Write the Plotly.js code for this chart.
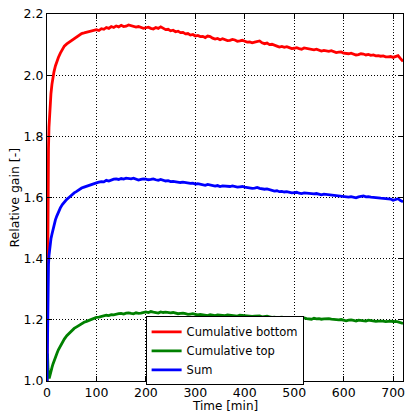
<!DOCTYPE html>
<html>
<head>
<meta charset="utf-8">
<script src="https://cdn.plot.ly/plotly-3.0.1.min.js"></script>
<style>html,body{margin:0;padding:0;background:#fff;}#chart{width:406px;height:413px;}</style>
</head>
<body>
<div id="chart"></div>
<script>
const timeMin = [0,1,2,3,4,5,6,7,8,10,12,14,17,20,23,27,31,35,40,45,50,55,60,65,70,75,80,85,90,95,
  100,105,110,115,120,125,130,135,140,145,
  150,155,160,165,170,175,180,185,190,195,
  200,205,210,215,220,225,230,235,240,245,
  250,255,260,265,270,275,280,285,290,295,
  300,305,310,315,320,325,330,335,340,345,
  350,355,360,365,370,375,380,385,390,395,
  400,405,410,415,420,425,430,435,440,445,
  450,455,460,465,470,475,480,485,490,495,
  500,505,510,515,520,525,530,535,540,545,
  550,555,560,565,570,575,580,585,590,595,
  600,605,610,615,620,625,630,635,640,645,
  650,655,660,665,670,675,680,685,690,695,
  700,705,710,715,720];

const cumulativeBottom = [1.00,1.45,1.65,1.76,1.83,1.87,1.90,1.92,1.94,1.97,1.995,2.01,2.03,2.045,2.058,2.072,2.083,2.095,2.102,2.108,2.115,2.12,2.127,2.13,2.136,2.138,2.14,2.141,2.145,2.146,
  2.149,2.146,2.152,2.150,2.156,2.153,2.159,2.156,2.161,2.158,
  2.163,2.159,2.160,2.164,2.162,2.158,2.157,2.159,2.156,2.153,
  2.155,2.157,2.153,2.151,2.156,2.153,2.158,2.152,2.149,2.150,
  2.145,2.147,2.142,2.144,2.139,2.140,2.135,2.136,2.131,2.133,
  2.128,2.130,2.126,2.127,2.123,2.128,2.126,2.121,2.118,2.120,
  2.116,2.119,2.117,2.113,2.114,2.117,2.115,2.111,2.112,2.114,
  2.111,2.108,2.109,2.106,2.108,2.111,2.112,2.106,2.103,2.105,
  2.100,2.101,2.097,2.095,2.092,2.094,2.091,2.093,2.090,2.087,
  2.088,2.090,2.087,2.085,2.089,2.087,2.086,2.083,2.083,2.085,
  2.082,2.079,2.081,2.079,2.078,2.080,2.077,2.074,2.075,2.076,
  2.072,2.070,2.070,2.072,2.068,2.066,2.067,2.070,2.069,2.066,
  2.068,2.065,2.066,2.063,2.064,2.062,2.063,2.060,2.060,2.061,
  2.058,2.061,2.064,2.054,2.045];

const cumulativeTop = [1.00,1.09,1.04,1.02,1.012,1.012,1.02,1.025,1.03,1.044,1.055,1.065,1.078,1.09,1.102,1.115,1.126,1.137,1.148,1.157,1.165,1.172,1.177,1.183,1.187,1.192,1.195,1.198,1.203,1.205,
  1.208,1.209,1.211,1.213,1.215,1.214,1.217,1.216,1.219,1.220,
  1.221,1.219,1.222,1.223,1.221,1.220,1.223,1.221,1.222,1.224,
  1.226,1.224,1.227,1.225,1.224,1.222,1.226,1.224,1.225,1.223,
  1.223,1.224,1.222,1.220,1.221,1.222,1.220,1.218,1.219,1.220,
  1.218,1.216,1.218,1.217,1.215,1.214,1.217,1.215,1.214,1.216,
  1.215,1.213,1.214,1.216,1.215,1.213,1.214,1.212,1.215,1.214,
  1.214,1.212,1.213,1.211,1.212,1.213,1.213,1.210,1.211,1.212,
  1.210,1.208,1.209,1.207,1.208,1.209,1.207,1.205,1.206,1.207,
  1.206,1.204,1.205,1.206,1.206,1.204,1.204,1.202,1.205,1.203,
  1.204,1.202,1.203,1.204,1.204,1.202,1.201,1.199,1.200,1.201,
  1.199,1.197,1.199,1.200,1.198,1.196,1.199,1.198,1.198,1.196,
  1.199,1.197,1.197,1.195,1.196,1.197,1.196,1.194,1.195,1.196,
  1.194,1.195,1.193,1.191,1.188];

const sumGain = [1.00,1.25,1.33,1.38,1.41,1.43,1.445,1.455,1.465,1.48,1.497,1.51,1.527,1.54,1.553,1.566,1.577,1.586,1.594,1.601,1.609,1.615,1.62,1.626,1.631,1.634,1.637,1.64,1.644,1.645,
  1.648,1.650,1.652,1.651,1.656,1.654,1.658,1.660,1.661,1.659,
  1.662,1.660,1.663,1.661,1.661,1.663,1.660,1.657,1.659,1.661,
  1.660,1.658,1.659,1.661,1.658,1.656,1.659,1.657,1.654,1.655,
  1.652,1.653,1.651,1.649,1.649,1.650,1.648,1.646,1.646,1.647,
  1.644,1.645,1.643,1.641,1.640,1.643,1.641,1.638,1.637,1.639,
  1.636,1.638,1.637,1.635,1.636,1.638,1.636,1.634,1.635,1.636,
  1.634,1.632,1.632,1.630,1.631,1.633,1.630,1.628,1.627,1.628,
  1.625,1.624,1.621,1.622,1.619,1.620,1.618,1.619,1.616,1.615,
  1.616,1.617,1.614,1.613,1.615,1.614,1.613,1.611,1.612,1.613,
  1.611,1.609,1.611,1.610,1.609,1.610,1.608,1.606,1.607,1.606,
  1.603,1.602,1.601,1.603,1.601,1.599,1.602,1.604,1.605,1.602,
  1.603,1.601,1.601,1.599,1.599,1.598,1.597,1.596,1.594,1.595,
  1.591,1.594,1.596,1.590,1.586];

const seriesNames = ["Cumulative bottom","Cumulative top","Sum"];
const seriesColors = ["#ff0000","#008000","#0000ff"];
const xTicks = [0,100,200,300,400,500,600,700];
const yTicks = [1.0,1.2,1.4,1.6,1.8,2.0,2.2];
const xTitle = "Time [min]";
const yTitle = "Relative gain [-]";

const seriesData = [cumulativeBottom, cumulativeTop, sumGain];
const traces = seriesData.map((ys, i) => ({
  x: timeMin, y: ys, type: 'scatter', mode: 'lines', name: seriesNames[i],
  line: {color: seriesColors[i], width: 2.8}
}));

const axisCommon = {
  showline: true, mirror: 'ticks', linecolor: '#000', linewidth: 1,
  ticks: 'inside', ticklen: 5, tickcolor: '#000', tickwidth: 1,
  showgrid: true, gridcolor: '#000', gridwidth: 1, griddash: '1px,2px',
  zeroline: false, automargin: false,
  tickfont: {family: 'DejaVu Sans', size: 12.5, color: '#000'}
};

const layout = {
  width: 406, height: 413,
  margin: {l: 47, r: 3, t: 14, b: 32},
  paper_bgcolor: '#fff', plot_bgcolor: '#fff',
  font: {family: 'DejaVu Sans', color: '#000'},
  xaxis: Object.assign({}, axisCommon, {
    range: [0, 720], tickvals: xTicks, ticktext: xTicks.map(String)
  }),
  yaxis: Object.assign({}, axisCommon, {
    range: [1.0, 2.2], tickvals: yTicks, ticktext: yTicks.map(v => v.toFixed(1))
  }),
  annotations: [
    {text: xTitle, xref: 'paper', yref: 'paper', x: 0.5, y: 0, xanchor: 'center', yanchor: 'top',
     yshift: -17, borderpad: 0, showarrow: false, font: {family: 'DejaVu Sans', size: 12, color: '#000'}},
    {text: yTitle, xref: 'paper', yref: 'paper', x: 0, y: 0.5, xanchor: 'center', yanchor: 'middle',
     xshift: -33, textangle: -90, showarrow: false, font: {family: 'DejaVu Sans', size: 12.5, color: '#000'}}
  ],
  showlegend: true,
  legend: {
    x: 0.277, y: 0.176, xanchor: 'left', yanchor: 'top',
    bgcolor: '#fff', bordercolor: '#000', borderwidth: 1,
    font: {family: 'DejaVu Sans', size: 11.5, color: '#000'},
    tracegroupgap: 0, itemwidth: 30
  }
};

Plotly.newPlot('chart', traces, layout, {displayModeBar: false, staticPlot: true});
</script>
</body>
</html>
